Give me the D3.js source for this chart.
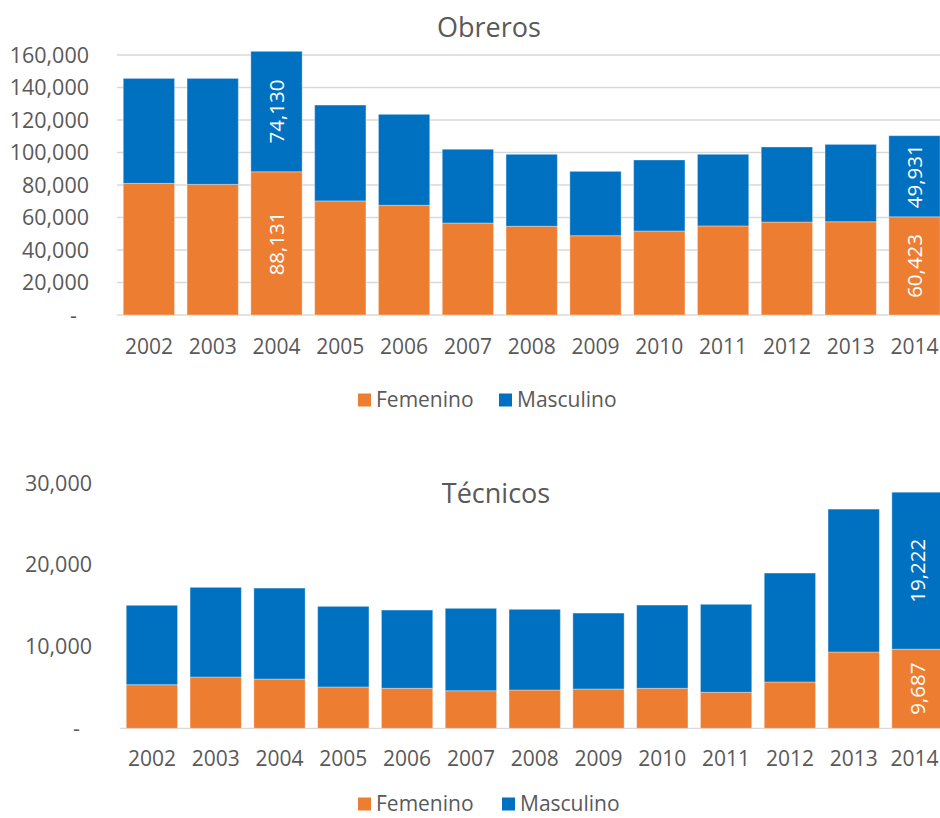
<!DOCTYPE html>
<html><head><meta charset="utf-8">
<script src="https://cdn.jsdelivr.net/npm/d3@7"></script>
<style>body{margin:0;background:#fff}svg{display:block;font-family:"Open Sans",Lato,sans-serif}</style>
</head><body>
<svg id="c" width="940" height="818"></svg>
<script>
const years = ["2002","2003","2004","2005","2006","2007","2008","2009","2010","2011","2012","2013","2014"];
const obrerosFem  = [81000,80400,88131,70200,67500,56600,54600,48800,51700,54800,57200,57400,60423];
const obrerosMasc = [64600,65200,74130,59000,56000,45400,44300,39600,43700,44100,46200,47600,49931];
const tecnicosFem  = [5340,6280,6030,5060,4900,4600,4690,4810,4900,4410,5670,9340,9687];
const tecnicosMasc = [9720,10980,11140,9870,9580,10090,9880,9300,10190,10770,13340,17500,19222];
const obrerosTicks = [0,20000,40000,60000,80000,100000,120000,140000,160000];
const tecnicosTicks = [0,10000,20000,30000];
const seriesNames = ["Femenino","Masculino"];
const labelled = {"Obreros":["2004","2014"],"Técnicos":["2014"]};

const colors = ["#ED7D31","#0070C0"];
const svg = d3.select("#c");
const fmt = d3.format(",");
const gray = "#595959";

function drawChart(cfg){
  const g = svg.append("g");
  const x = d3.scaleBand().domain(years).range([cfg.x0, cfg.x0 + 13*63.8]).paddingInner(0.196).paddingOuter(0.098);
  const y = d3.scaleLinear().domain([0, cfg.max]).range([cfg.base, cfg.top]);
  if (cfg.grid) {
    g.selectAll("line.grid").data(cfg.ticks).join("line")
      .attr("x1", cfg.x0).attr("x2", 940).attr("y1", d=>y(d)).attr("y2", d=>y(d))
      .attr("stroke", "#d9d9d9").attr("stroke-width", 1.3);
  } else {
    g.append("line").attr("x1", cfg.x0).attr("x2", 940).attr("y1", y(0)).attr("y2", y(0))
      .attr("stroke", "#d9d9d9").attr("stroke-width", 1.3);
  }
  g.selectAll("text.yt").data(cfg.ticks).join("text")
    .attr("x", d => d===0 ? cfg.labelEnd-12 : cfg.labelEnd)
    .attr("y", d=>y(d)).attr("dy","0.35em").attr("text-anchor","end")
    .attr("fill", gray).attr("font-size", 21.5)
    .text(d => d===0 ? "-" : fmt(d));
  const rows = years.map((yr,i)=>({year:yr, f:cfg.fem[i], m:cfg.masc[i]}));
  const stack = d3.stack().keys(["f","m"])(rows);
  stack.forEach((s,si)=>{
    g.selectAll(null).data(s).join("rect")
      .attr("x", d=>x(d.data.year)).attr("width", x.bandwidth())
      .attr("y", d=>y(d[1])).attr("height", d=>y(d[0])-y(d[1]))
      .attr("fill", colors[si]).attr("stroke","rgba(255,255,255,0.35)").attr("stroke-width",1);
    g.selectAll(null).data(s.filter(d=>labelled[cfg.title].includes(d.data.year))).join("text")
      .attr("transform", d=>`translate(${x(d.data.year)+x.bandwidth()/2},${(y(d[0])+y(d[1]))/2}) rotate(-90)`)
      .attr("text-anchor","middle").attr("dy","0.35em").attr("fill","#fff").attr("font-size",20.5)
      .text(d=>fmt(d[1]-d[0]));
  });
  g.selectAll("text.xt").data(years).join("text")
    .attr("x", d=>Math.min(x(d)+x.bandwidth()/2, 914.5)).attr("y", cfg.xLabelY).attr("dy","0.35em")
    .attr("text-anchor","middle").attr("fill", gray).attr("font-size",21).text(d=>d);
  g.append("text").attr("x", cfg.titleX).attr("y", cfg.titleY).attr("dy","0.35em")
    .attr("text-anchor","middle").attr("fill", gray).attr("font-size",27).text(cfg.title);
  const lg = g.append("g");
  const items = [{n:seriesNames[0], c:colors[0], x:cfg.legX[0]},{n:seriesNames[1], c:colors[1], x:cfg.legX[1]}];
  items.forEach(it=>{
    lg.append("rect").attr("x", it.x).attr("y", cfg.legY-6.5).attr("width",13).attr("height",13).attr("fill",it.c);
    lg.append("text").attr("x", it.x+18).attr("y", cfg.legY).attr("dy","0.35em")
      .attr("fill", gray).attr("font-size",21).text(it.n);
  });
}

drawChart({title:"Obreros", fem:obrerosFem, masc:obrerosMasc, ticks:obrerosTicks, max:160000,
  x0:117, base:315, top:55, grid:true, labelEnd:89, xLabelY:347, titleX:489, titleY:28,
  legX:[358,499], legY:400});
drawChart({title:"Técnicos", fem:tecnicosFem, masc:tecnicosMasc, ticks:tecnicosTicks, max:30000,
  x0:120, base:728.3, top:483.3, grid:false, labelEnd:92, xLabelY:759, titleX:496, titleY:494,
  legX:[358,502], legY:804});
</script>
</body></html>
